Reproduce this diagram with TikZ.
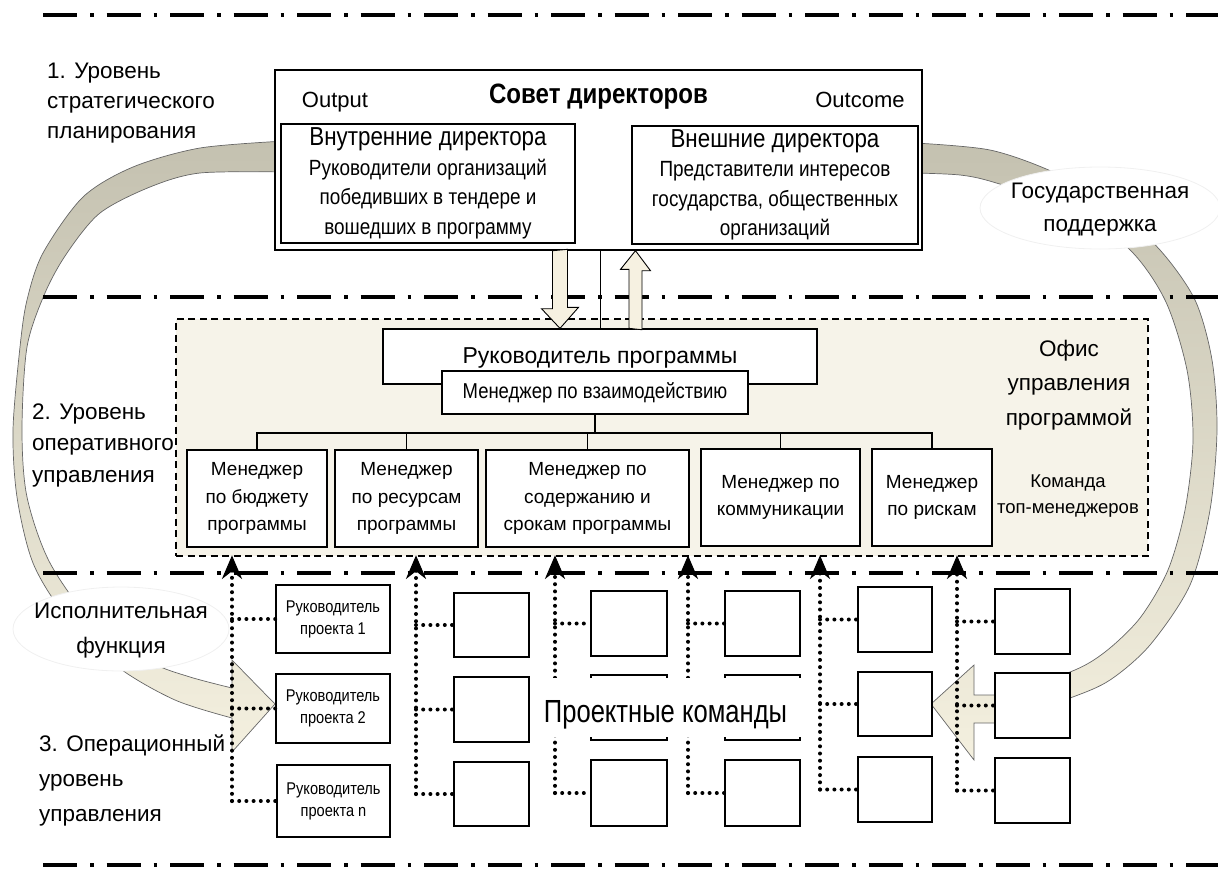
\documentclass[tikz,border=0pt]{standalone}
\usepackage{fontspec}
\setmainfont{Liberation Sans}
\newfontfamily\condf[FakeStretch=0.86]{Liberation Sans}
\newfontfamily\condx[FakeStretch=0.80]{Liberation Sans}
\usetikzlibrary{arrows.meta}
\definecolor{officefill}{HTML}{F6F3E9}
\definecolor{arrowcream}{HTML}{F6F1E1}
\definecolor{bandgrey}{HTML}{C4C1B0}
\definecolor{bandcream}{HTML}{F4F0DF}
\begin{document}
\begin{tikzpicture}[x=1pt,y=-1pt,
  box/.style={draw, fill=white, line width=1.3pt, inner sep=0pt, align=center},
  gbox/.style={box, line width=1.9pt},
  mgr/.style={box, font=\fontsize{19}{27.5}\selectfont},
  pbox/.style={box, line width=1.5pt, font=\condf\fontsize{17}{22}\selectfont},
  sepline/.style={line width=4.5pt, dash pattern=on 34pt off 13pt on 3.5pt off 13pt},
  dotl/.style={line width=4pt, line cap=round, dash pattern=on 0pt off 7.2pt},
  band/.style={draw=black!60, line width=0.7pt, top color=bandgrey, bottom color=bandcream},
  hollow/.style={draw, line width=0.9pt, fill=arrowcream},
  conn/.style={line width=1.2pt},
  txt/.style={inner sep=0pt, align=center}
]
\useasboundingbox (0,0) rectangle (1218,871);

% ---------- office of program management ----------
\node[draw, line width=1.2pt, dash pattern=on 7pt off 4.5pt, fill=officefill, inner sep=0pt,
      minimum width=972, minimum height=237] (office) at (662,437.5) {};

% ---------- curved bands ----------
\path[band] plot[smooth] coordinates {(285,141) (200,148) (133,167) (83,197) (43,253) (27,300) (20,347) (13,430) (17,497) (33,563) (65,615) (118,667) (175,700) (232,718)}
  -- (232,752) -- (275,704) -- (232,660)
  -- plot[smooth] coordinates {(232,688) (190,677) (150,662) (95,625) (50,563) (27,497) (22,430) (27,347) (45,293) (67,253) (100,213) (150,187) (200,173) (285,172)}
  -- cycle;

\path[band] plot[smooth] coordinates {(915,143) (990,150) (1053,172) (1110,205) (1160,250) (1195,300) (1212,360) (1217,430) (1210,510) (1190,585) (1150,645) (1110,680) (1070,698) (994,723)}
  -- (974,723) -- (974,760) -- (931,704) -- (974,665) -- (974,695)
  -- plot[smooth] coordinates {(994,695) (1070,672) (1105,652) (1140,618) (1168,570) (1185,510) (1193,440) (1187,370) (1165,300) (1127,247) (1060,205) (993,182) (960,175) (915,173)}
  -- cycle;

\filldraw[fill=white, draw=black!6, line width=0.8pt] (121,629) ellipse [x radius=108, y radius=42];
\filldraw[fill=white, draw=black!6, line width=0.8pt] (1100,208) ellipse [x radius=120, y radius=41];

% ---------- level separators ----------
\foreach \yy in {15,297,573,865} \draw[sepline] (43,\yy) -- (1218,\yy);

% ---------- level labels ----------
\node[txt, align=left, anchor=west, font=\fontsize{22.5}{30}\selectfont] (lev1) at (47,103) {1. Уровень\\стратегического\\планирования};
\node[txt, align=left, anchor=west, font=\fontsize{22.5}{31.5}\selectfont] (lev2) at (32,445) {2. Уровень\\оперативного\\управления};
\node[txt, align=left, anchor=west, font=\fontsize{22.5}{35}\selectfont] (lev3) at (39,780) {3. Операционный\\уровень\\управления};
\node[txt, font=\fontsize{22.5}{35}\selectfont] (ispf) at (121,631) {Исполнительная\\функция};
\node[txt, font=\fontsize{22.5}{33}\selectfont] (gosp) at (1100,210) {Государственная\\поддержка};
\node[txt, font=\fontsize{22.5}{34.5}\selectfont] (ofc) at (1069,385) {Офис\\управления\\программой};
\node[txt, font=\fontsize{18.5}{26}\selectfont] (ktm) at (1068,496) {Команда\\топ-менеджеров};

% ---------- board of directors ----------
\node[box, line width=1.4pt, minimum width=647, minimum height=180] (board) at (598.5,160) {};
\node[inner sep=0pt, anchor=base, font=\condf\bfseries\fontsize{28}{28}\selectfont] (sd) at (598.5,103) {Совет директоров};
\node[inner sep=0pt, anchor=base, font=\fontsize{22}{22}\selectfont] (outp) at (335,107) {Output};
\node[inner sep=0pt, anchor=base, font=\fontsize{22}{22}\selectfont] (outc) at (860,107) {Outcome};
\node[box, minimum width=294, minimum height=119, font=\condf\fontsize{22}{29.5}\selectfont] (lb) at (428,183.5)
  {{\fontsize{26}{29.5}\selectfont Внутренние директора}\\Руководители организаций\\победивших в тендере и\\вошедших в программу};
\node[box, minimum width=286, minimum height=118, font=\condf\fontsize{22}{29.5}\selectfont] (rb) at (775,185)
  {{\fontsize{26}{29.5}\selectfont Внешние директора}\\Представители интересов\\государства, общественных\\организаций};

% ---------- program manager ----------
\node[box, minimum width=434, minimum height=55, font=\fontsize{23}{23}\selectfont, text depth=2pt] (pm) at (600,356.5) {Руководитель программы};
\node[box, minimum width=306, minimum height=43, font=\condf\fontsize{21.5}{21.5}\selectfont] (im) at (595,392.5) {Менеджер по взаимодействию};

% arrows between board and program manager
\coordinate (dA) at (560,0);
\coordinate (uA) at (635.5,0);
\coordinate (tl) at (600,0);
\draw[hollow] (board.south -| dA) ++(-7.5,0) -- ++(0,58) -- ++(-11,0) -- (pm.north -| dA) -- ++(18.5,-21) -- ++(-11,0) -- ++(0,-58) -- cycle;
\draw[hollow] (pm.north -| uA) ++(-6.5,0) -- ++(0,-59) -- ++(-8.5,0) -- (board.south -| uA) -- ++(15,20) -- ++(-8.5,0) -- ++(0,59) -- cycle;
\draw[line width=0.9pt] (board.south -| tl) -- (pm.north -| tl);

% ---------- top managers ----------
\node[mgr, minimum width=140, minimum height=97] (m1) at (257,498.5) {Менеджер\\по бюджету\\программы};
\node[mgr, minimum width=143, minimum height=97] (m2) at (406.5,498.5) {Менеджер\\по ресурсам\\программы};
\node[mgr, minimum width=203, minimum height=97] (m3) at (587.5,498.5) {Менеджер по\\содержанию и\\срокам программы};
\node[mgr, minimum width=159, minimum height=97] (m4) at (780.5,497.5) {Менеджер по\\коммуникации};
\node[mgr, minimum width=120, minimum height=97] (m5) at (932,497.5) {Менеджер\\по рискам};

\coordinate (bus) at (595,433);
\draw[conn] (im.south) -- (bus);
\draw[conn] (m1.north) |- (bus) -| (m5.north);
\draw[conn] (m2.north) -- (m2.north |- bus);
\draw[conn] (m3.north) -- (m3.north |- bus);
\draw[conn] (m4.north) -- (m4.north |- bus);

% ---------- project teams ----------
\node[pbox, minimum width=114, minimum height=68] (A1) at (333,619) {Руководитель\\проекта 1};
\node[pbox, minimum width=114, minimum height=69] (A2) at (333,708.5) {Руководитель\\проекта 2};
\node[pbox, minimum width=113, minimum height=72] (A3) at (333.5,801) {Руководитель\\проекта n};

\node[gbox, minimum width=75, minimum height=64] (B1) at (491.5,625) {};
\node[gbox, minimum width=75, minimum height=65] (B2) at (491.5,709.5) {};
\node[gbox, minimum width=75, minimum height=64] (B3) at (491.5,794) {};
\node[gbox, minimum width=76, minimum height=65] (C1) at (629,623.5) {};
\node[gbox, minimum width=76, minimum height=65] (C2) at (629,707.5) {};
\node[gbox, minimum width=76, minimum height=66] (C3) at (629,793) {};
\node[gbox, minimum width=75, minimum height=65] (D1) at (762.5,623.5) {};
\node[gbox, minimum width=75, minimum height=65] (D2) at (762.5,707.5) {};
\node[gbox, minimum width=75, minimum height=66] (D3) at (762.5,793) {};
\node[gbox, minimum width=74, minimum height=65] (E1) at (895,619.5) {};
\node[gbox, minimum width=74, minimum height=64] (E2) at (895,704) {};
\node[gbox, minimum width=74, minimum height=65] (E3) at (895,789.5) {};
\node[gbox, minimum width=75, minimum height=65] (F1) at (1032.5,621.5) {};
\node[gbox, minimum width=75, minimum height=65] (F2) at (1032.5,705.5) {};
\node[gbox, minimum width=75, minimum height=65] (F3) at (1032.5,790.5) {};

\coordinate (vA) at (232,0);
\coordinate (vB) at (416,0);
\coordinate (vC) at (555,0);
\coordinate (vD) at (688,0);
\coordinate (vE) at (820,0);
\coordinate (vF) at (957,0);
\foreach \c in {A,B,C,D,E,F}{
  \draw[dotl, shorten >=14pt] (\c3.west -| v\c) -- (office.south -| v\c);
  \filldraw[line width=1pt, line join=miter] (office.south -| v\c) -- ++(-9,21) -- ++(9,-7) -- ++(9,7) -- cycle;
  \draw[dotl] (\c1.west -| v\c) -- (\c1.west);
  \draw[dotl] (\c2.west -| v\c) -- (\c2.west);
  \draw[dotl] (\c3.west -| v\c) -- (\c3.west);
}

\node[fill=white, inner sep=0pt, minimum width=265, minimum height=59] (pkbg) at (670.5,707.5) {};
\node[inner sep=0pt, anchor=base, font=\condx\fontsize{32}{32}\selectfont] (pk) at (665.5,722) {Проектные команды};

\end{tikzpicture}
\end{document}
